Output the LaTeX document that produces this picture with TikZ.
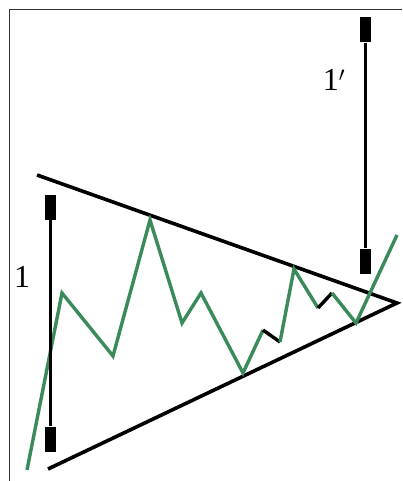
\documentclass[tikz,border=0pt]{standalone}
\usepackage{fontspec}
\setmainfont{Liberation Serif}
\definecolor{trendgreen}{RGB}{58,138,90}
\begin{document}
\begin{tikzpicture}[x=1pt,y=-1pt,
  frame/.style={draw=black!80,line width=1pt},
  trend/.style={draw=black,line width=3.6pt},
  price/.style={draw=trendgreen,line width=3.4pt,line join=miter},
  pricedark/.style={draw=black,line width=3.4pt},
  bar/.style={draw=black,line width=3pt},
  barcap/.style={fill=black,minimum width=11pt,minimum height=25pt,inner sep=0pt,draw=none},
  lbl/.style={font=\fontsize{32}{32}\selectfont,inner sep=0pt}]
\useasboundingbox (0,0) rectangle (402,481);
\fill[white] (0,0) rectangle (402,481);
% frame
\coordinate (fTL) at (9,10);
\coordinate (fTR) at (402,10);
\coordinate (fBL) at (9,481);
\draw[frame] (fTR) -- (fTL) -- (fBL);
% trend lines
\coordinate (uStart) at (37,175);
\coordinate (lStart) at (48,469);
\coordinate (apex) at (397,303);
\draw[trend] (uStart) -- (apex) -- (lStart);
% price path
\coordinate (p0) at (27,470);
\coordinate (p1) at (62,293);
\coordinate (p2) at (113,356);
\coordinate (p3) at (150,220);
\coordinate (p4) at (182,323);
\coordinate (p5) at (201,293);
\coordinate (p6) at (243,373);
\coordinate (p7) at (263,330);
\coordinate (p8) at (280,342);
\coordinate (p9) at (294,269);
\coordinate (p10) at (318,308);
\coordinate (p11) at (332,293);
\coordinate (p12) at (356,323);
\coordinate (p13) at (397,235);
\draw[price] (p0) -- (p1) -- (p2) -- (p3) -- (p4) -- (p5) -- (p6) -- (p7);
\draw[pricedark] (p7) -- (p8);
\draw[price] (p8) -- (p9) -- (p10);
\draw[pricedark] (p10) -- (p11);
\draw[price] (p11) -- (p12) -- (p13);
% bar 1
\node[barcap] (b1top) at (50,207) {};
\node[barcap] (b1bot) at (50,439) {};
\draw[bar] (b1top) -- (b1bot);
\node[lbl] (l1) at (22,277) {1};
% bar 1'
\node[barcap] (b2top) at (365,30) {};
\node[barcap] (b2bot) at (365,261) {};
\draw[bar] (b2top) -- (b2bot);
\node[lbl] (l2) at (334,80) {1$'$};
\end{tikzpicture}
\end{document}
